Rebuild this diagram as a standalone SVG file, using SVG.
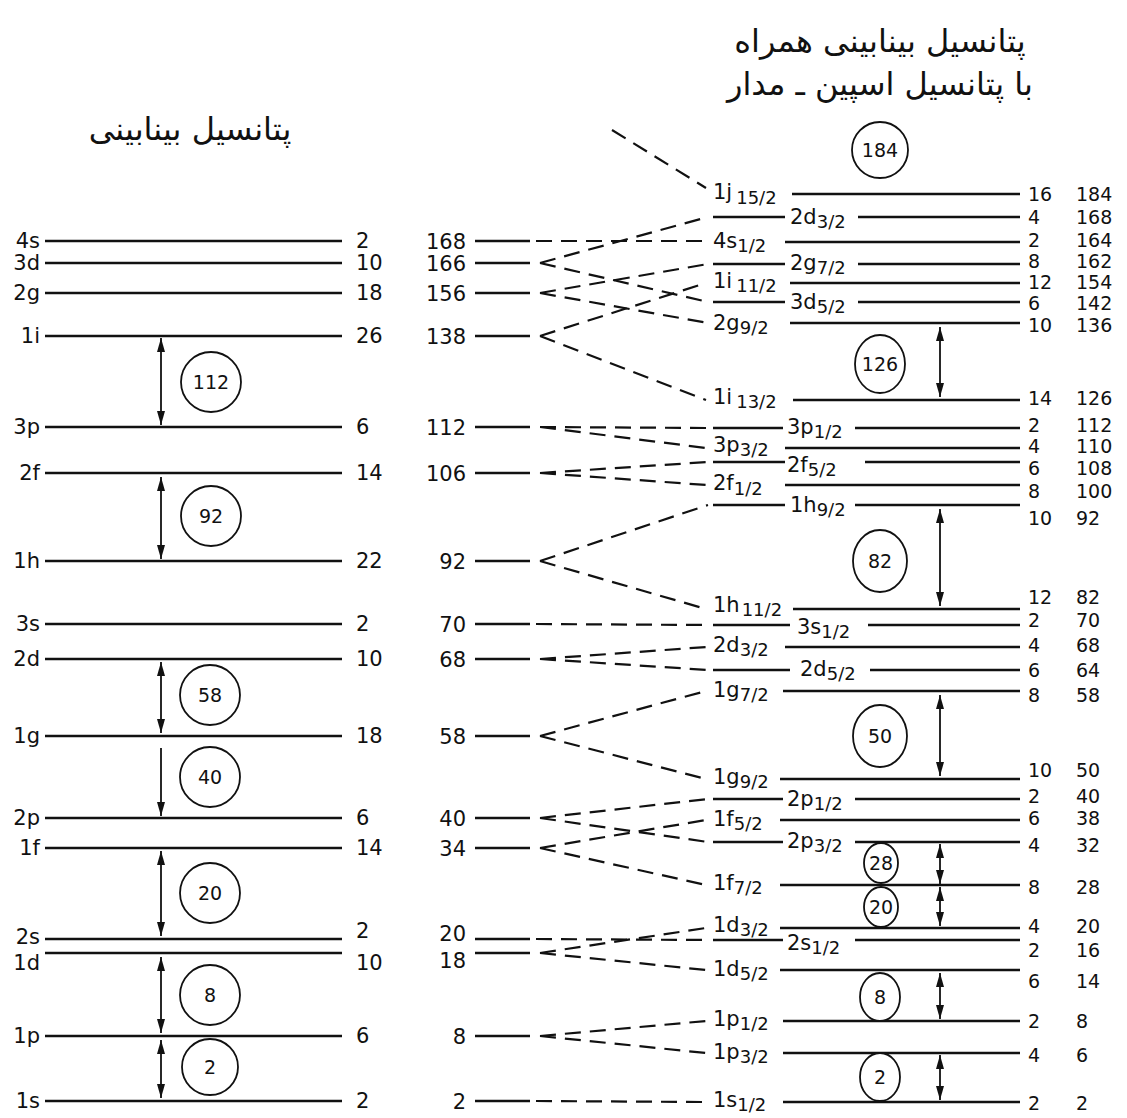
<svg xmlns="http://www.w3.org/2000/svg" width="1127" height="1118" viewBox="0 0 1127 1118">
<defs>
<style>
.lv{stroke:#111;stroke-width:2.6;fill:none}
.ds{stroke:#111;stroke-width:2.2;fill:none;stroke-dasharray:16 9}
.ar{stroke:#111;stroke-width:1.8;fill:none;marker-end:url(#ah)}
.ar2{stroke:#111;stroke-width:1.8;fill:none;marker-start:url(#ah);marker-end:url(#ah)}
.cc{stroke:#111;stroke-width:1.8;fill:#fff}
.t{font-family:"DejaVu Sans",sans-serif;font-size:21px;fill:#111}
.n{font-family:"DejaVu Sans",sans-serif;font-size:19px;fill:#111}
.lb{font-family:"DejaVu Sans",sans-serif;font-size:21px;fill:#111}
.sb{font-size:18px}
.cn{font-family:"DejaVu Sans",sans-serif;font-size:19px;fill:#111;text-anchor:middle}
.fa{font-family:"DejaVu Sans",sans-serif;font-size:32px;fill:#111;text-anchor:middle}
.r{text-anchor:end}
</style>
<marker id="ah" viewBox="0 0 14 8" refX="14" refY="4" markerWidth="14" markerHeight="8" markerUnits="userSpaceOnUse" orient="auto-start-reverse"><path d="M0,0 L14,4 L0,8 z" fill="#111"/></marker>
</defs>
<rect width="1127" height="1118" fill="#fff"/>

<g id="titles">
<text class="fa" x="190" y="140" direction="rtl">پتانسیل بینابینی</text>
<text class="fa" x="880" y="52" direction="rtl">پتانسیل بینابینی همراه</text>
<text class="fa" x="880" y="95" direction="rtl">با پتانسیل اسپین ـ مدار</text>
</g>

<!-- Left column -->
<g id="left-levels">
<g id="L-4s"><line class="lv" x1="45" y1="241" x2="342" y2="241"/><text class="lb r" x="40" y="248">4s</text><text class="t" x="356" y="248">2</text></g>
<g id="L-3d"><line class="lv" x1="45" y1="263" x2="342" y2="263"/><text class="lb r" x="40" y="270">3d</text><text class="t" x="356" y="270">10</text></g>
<g id="L-2g"><line class="lv" x1="45" y1="293" x2="342" y2="293"/><text class="lb r" x="40" y="300">2g</text><text class="t" x="356" y="300">18</text></g>
<g id="L-1i"><line class="lv" x1="45" y1="336" x2="342" y2="336"/><text class="lb r" x="40" y="343">1i</text><text class="t" x="356" y="343">26</text></g>
<g id="L-3p"><line class="lv" x1="45" y1="427" x2="342" y2="427"/><text class="lb r" x="40" y="434">3p</text><text class="t" x="356" y="434">6</text></g>
<g id="L-2f"><line class="lv" x1="45" y1="473" x2="342" y2="473"/><text class="lb r" x="40" y="480">2f</text><text class="t" x="356" y="480">14</text></g>
<g id="L-1h"><line class="lv" x1="45" y1="561" x2="342" y2="561"/><text class="lb r" x="40" y="568">1h</text><text class="t" x="356" y="568">22</text></g>
<g id="L-3s"><line class="lv" x1="45" y1="624" x2="342" y2="624"/><text class="lb r" x="40" y="631">3s</text><text class="t" x="356" y="631">2</text></g>
<g id="L-2d"><line class="lv" x1="45" y1="659" x2="342" y2="659"/><text class="lb r" x="40" y="666">2d</text><text class="t" x="356" y="666">10</text></g>
<g id="L-1g"><line class="lv" x1="45" y1="736" x2="342" y2="736"/><text class="lb r" x="40" y="743">1g</text><text class="t" x="356" y="743">18</text></g>
<g id="L-2p"><line class="lv" x1="45" y1="818" x2="342" y2="818"/><text class="lb r" x="40" y="825">2p</text><text class="t" x="356" y="825">6</text></g>
<g id="L-1f"><line class="lv" x1="45" y1="848" x2="342" y2="848"/><text class="lb r" x="40" y="855">1f</text><text class="t" x="356" y="855">14</text></g>
<g id="L-2s"><line class="lv" x1="45" y1="939" x2="342" y2="939"/><text class="lb r" x="40" y="944">2s</text><text class="t" x="356" y="938">2</text></g>
<g id="L-1d"><line class="lv" x1="45" y1="953" x2="342" y2="953"/><text class="lb r" x="40" y="970">1d</text><text class="t" x="356" y="970">10</text></g>
<g id="L-1p"><line class="lv" x1="45" y1="1036" x2="342" y2="1036"/><text class="lb r" x="40" y="1043">1p</text><text class="t" x="356" y="1043">6</text></g>
<g id="L-1s"><line class="lv" x1="45" y1="1101" x2="342" y2="1101"/><text class="lb r" x="40" y="1108">1s</text><text class="t" x="356" y="1108">2</text></g>
</g>

<g id="left-gaps">
<g id="g112"><circle class="cc" cx="211" cy="382" r="30"/><text class="cn" x="211" y="389">112</text></g>
<g id="g92"><circle class="cc" cx="211" cy="516" r="30"/><text class="cn" x="211" y="523">92</text></g>
<g id="g58"><circle class="cc" cx="210" cy="695" r="30"/><text class="cn" x="210" y="702">58</text></g>
<g id="g40"><circle class="cc" cx="210" cy="777" r="30"/><text class="cn" x="210" y="784">40</text></g>
<g id="g20"><circle class="cc" cx="210" cy="893" r="30"/><text class="cn" x="210" y="900">20</text></g>
<g id="g8"><circle class="cc" cx="210" cy="995" r="30"/><text class="cn" x="210" y="1002">8</text></g>
<g id="g2"><circle class="cc" cx="210" cy="1067" r="28"/><text class="cn" x="210" y="1074">2</text></g>
</g>

<!-- Middle column -->
<g id="mid-levels">
<g id="M-168"><line class="lv" x1="475" y1="241" x2="530" y2="241"/><text class="t r" x="466" y="249">168</text></g>
<g id="M-166"><line class="lv" x1="475" y1="263" x2="530" y2="263"/><text class="t r" x="466" y="271">166</text></g>
<g id="M-156"><line class="lv" x1="475" y1="293" x2="530" y2="293"/><text class="t r" x="466" y="301">156</text></g>
<g id="M-138"><line class="lv" x1="475" y1="336" x2="530" y2="336"/><text class="t r" x="466" y="344">138</text></g>
<g id="M-112"><line class="lv" x1="475" y1="427" x2="530" y2="427"/><text class="t r" x="466" y="435">112</text></g>
<g id="M-106"><line class="lv" x1="475" y1="473" x2="530" y2="473"/><text class="t r" x="466" y="481">106</text></g>
<g id="M-92"><line class="lv" x1="475" y1="561" x2="530" y2="561"/><text class="t r" x="466" y="569">92</text></g>
<g id="M-70"><line class="lv" x1="475" y1="624" x2="530" y2="624"/><text class="t r" x="466" y="632">70</text></g>
<g id="M-68"><line class="lv" x1="475" y1="659" x2="530" y2="659"/><text class="t r" x="466" y="667">68</text></g>
<g id="M-58"><line class="lv" x1="475" y1="736" x2="530" y2="736"/><text class="t r" x="466" y="744">58</text></g>
<g id="M-40"><line class="lv" x1="475" y1="818" x2="530" y2="818"/><text class="t r" x="466" y="826">40</text></g>
<g id="M-34"><line class="lv" x1="475" y1="848" x2="530" y2="848"/><text class="t r" x="466" y="856">34</text></g>
<g id="M-20"><line class="lv" x1="475" y1="939" x2="530" y2="939"/><text class="t r" x="466" y="941">20</text></g>
<g id="M-18"><line class="lv" x1="475" y1="953" x2="530" y2="953"/><text class="t r" x="466" y="968">18</text></g>
<g id="M-8"><line class="lv" x1="475" y1="1036" x2="530" y2="1036"/><text class="t r" x="466" y="1044">8</text></g>
<g id="M-2"><line class="lv" x1="475" y1="1101" x2="530" y2="1101"/><text class="t r" x="466" y="1109">2</text></g>
</g>

<!-- Right column -->
<g id="right-levels">
<g id="R-1j15"><line class="lv" x1="792" y1="194" x2="1020" y2="194"/><text class="lb" x="713" y="199">1j<tspan class="sb" dx="4" dy="5">15/2</tspan></text><text class="n" x="1028" y="201">16</text><text class="n" x="1076" y="201">184</text></g>
<g id="R-2d3"><line class="lv" x1="713" y1="217" x2="785" y2="217"/><text class="lb" x="790" y="224">2d<tspan class="sb" dy="4">3/2</tspan></text><line class="lv" x1="858" y1="217" x2="1020" y2="217"/><text class="n" x="1028" y="224">4</text><text class="n" x="1076" y="224">168</text></g>
<g id="R-4s1"><line class="lv" x1="785" y1="242" x2="1020" y2="242"/><text class="lb" x="713" y="248">4s<tspan class="sb" dy="4">1/2</tspan></text><text class="n" x="1028" y="247">2</text><text class="n" x="1076" y="247">164</text></g>
<g id="R-2g7"><line class="lv" x1="713" y1="264" x2="785" y2="264"/><text class="lb" x="790" y="270">2g<tspan class="sb" dy="4">7/2</tspan></text><line class="lv" x1="858" y1="264" x2="1020" y2="264"/><text class="n" x="1028" y="268">8</text><text class="n" x="1076" y="268">162</text></g>
<g id="R-1i11"><line class="lv" x1="790" y1="283" x2="1020" y2="283"/><text class="lb" x="713" y="288">1i<tspan class="sb" dx="4" dy="4">11/2</tspan></text><text class="n" x="1028" y="289">12</text><text class="n" x="1076" y="289">154</text></g>
<g id="R-3d5"><line class="lv" x1="713" y1="302" x2="785" y2="302"/><text class="lb" x="790" y="309">3d<tspan class="sb" dy="4">5/2</tspan></text><line class="lv" x1="858" y1="302" x2="1020" y2="302"/><text class="n" x="1028" y="310">6</text><text class="n" x="1076" y="310">142</text></g>
<g id="R-2g9"><line class="lv" x1="790" y1="323" x2="1020" y2="323"/><text class="lb" x="713" y="330">2g<tspan class="sb" dy="4">9/2</tspan></text><text class="n" x="1028" y="332">10</text><text class="n" x="1076" y="332">136</text></g>
<g id="R-1i13"><line class="lv" x1="793" y1="400" x2="1020" y2="400"/><text class="lb" x="713" y="404">1i<tspan class="sb" dx="4" dy="4">13/2</tspan></text><text class="n" x="1028" y="405">14</text><text class="n" x="1076" y="405">126</text></g>
<g id="R-3p1"><line class="lv" x1="713" y1="428" x2="783" y2="428"/><text class="lb" x="787" y="434">3p<tspan class="sb" dy="4">1/2</tspan></text><line class="lv" x1="855" y1="428" x2="1020" y2="428"/><text class="n" x="1028" y="432">2</text><text class="n" x="1076" y="432">112</text></g>
<g id="R-3p3"><line class="lv" x1="785" y1="448" x2="1020" y2="448"/><text class="lb" x="713" y="452">3p<tspan class="sb" dy="4">3/2</tspan></text><text class="n" x="1028" y="453">4</text><text class="n" x="1076" y="453">110</text></g>
<g id="R-2f5"><line class="lv" x1="713" y1="462" x2="785" y2="462"/><text class="lb" x="787" y="472">2f<tspan class="sb" dy="4">5/2</tspan></text><line class="lv" x1="865" y1="462" x2="1020" y2="462"/><text class="n" x="1028" y="475">6</text><text class="n" x="1076" y="475">108</text></g>
<g id="R-2f1"><line class="lv" x1="785" y1="485" x2="1020" y2="485"/><text class="lb" x="713" y="490">2f<tspan class="sb" dy="5">1/2</tspan></text><text class="n" x="1028" y="498">8</text><text class="n" x="1076" y="498">100</text></g>
<g id="R-1h9"><line class="lv" x1="713" y1="505" x2="785" y2="505"/><text class="lb" x="790" y="512">1h<tspan class="sb" dy="4">9/2</tspan></text><line class="lv" x1="855" y1="505" x2="1020" y2="505"/><text class="n" x="1028" y="525">10</text><text class="n" x="1076" y="525">92</text></g>
<g id="R-1h11"><line class="lv" x1="793" y1="609" x2="1020" y2="609"/><text class="lb" x="713" y="612">1h<tspan class="sb" dx="2" dy="4">11/2</tspan></text><text class="n" x="1028" y="604">12</text><text class="n" x="1076" y="604">82</text></g>
<g id="R-3s1"><line class="lv" x1="713" y1="625" x2="790" y2="625"/><text class="lb" x="797" y="634">3s<tspan class="sb" dy="4">1/2</tspan></text><line class="lv" x1="868" y1="625" x2="1020" y2="625"/><text class="n" x="1028" y="627">2</text><text class="n" x="1076" y="627">70</text></g>
<g id="R-2d3b"><line class="lv" x1="785" y1="647" x2="1020" y2="647"/><text class="lb" x="713" y="652">2d<tspan class="sb" dy="4">3/2</tspan></text><text class="n" x="1028" y="652">4</text><text class="n" x="1076" y="652">68</text></g>
<g id="R-2d5"><line class="lv" x1="713" y1="670" x2="790" y2="670"/><text class="lb" x="800" y="676">2d<tspan class="sb" dy="4">5/2</tspan></text><line class="lv" x1="870" y1="670" x2="1020" y2="670"/><text class="n" x="1028" y="677">6</text><text class="n" x="1076" y="677">64</text></g>
<g id="R-1g7"><line class="lv" x1="783" y1="691" x2="1020" y2="691"/><text class="lb" x="713" y="697">1g<tspan class="sb" dy="4">7/2</tspan></text><text class="n" x="1028" y="702">8</text><text class="n" x="1076" y="702">58</text></g>
<g id="R-1g9"><line class="lv" x1="780" y1="779" x2="1020" y2="779"/><text class="lb" x="713" y="784">1g<tspan class="sb" dy="4">9/2</tspan></text><text class="n" x="1028" y="777">10</text><text class="n" x="1076" y="777">50</text></g>
<g id="R-2p1"><line class="lv" x1="713" y1="799" x2="783" y2="799"/><text class="lb" x="787" y="806">2p<tspan class="sb" dy="4">1/2</tspan></text><line class="lv" x1="855" y1="799" x2="1020" y2="799"/><text class="n" x="1028" y="803">2</text><text class="n" x="1076" y="803">40</text></g>
<g id="R-1f5"><line class="lv" x1="780" y1="820" x2="1020" y2="820"/><text class="lb" x="713" y="826">1f<tspan class="sb" dy="4">5/2</tspan></text><text class="n" x="1028" y="825">6</text><text class="n" x="1076" y="825">38</text></g>
<g id="R-2p3"><line class="lv" x1="713" y1="842" x2="783" y2="842"/><text class="lb" x="787" y="848">2p<tspan class="sb" dy="4">3/2</tspan></text><line class="lv" x1="855" y1="842" x2="1020" y2="842"/><text class="n" x="1028" y="852">4</text><text class="n" x="1076" y="852">32</text></g>
<g id="R-1f7"><line class="lv" x1="780" y1="885" x2="1020" y2="885"/><text class="lb" x="713" y="890">1f<tspan class="sb" dy="4">7/2</tspan></text><text class="n" x="1028" y="894">8</text><text class="n" x="1076" y="894">28</text></g>
<g id="R-1d3"><line class="lv" x1="780" y1="928" x2="1020" y2="928"/><text class="lb" x="713" y="932">1d<tspan class="sb" dy="4">3/2</tspan></text><text class="n" x="1028" y="933">4</text><text class="n" x="1076" y="933">20</text></g>
<g id="R-2s1"><line class="lv" x1="713" y1="940" x2="783" y2="940"/><text class="lb" x="787" y="950">2s<tspan class="sb" dy="4">1/2</tspan></text><line class="lv" x1="855" y1="940" x2="1020" y2="940"/><text class="n" x="1028" y="957">2</text><text class="n" x="1076" y="957">16</text></g>
<g id="R-1d5"><line class="lv" x1="780" y1="970" x2="1020" y2="970"/><text class="lb" x="713" y="976">1d<tspan class="sb" dy="4">5/2</tspan></text><text class="n" x="1028" y="988">6</text><text class="n" x="1076" y="988">14</text></g>
<g id="R-1p1"><line class="lv" x1="783" y1="1021" x2="1020" y2="1021"/><text class="lb" x="713" y="1026">1p<tspan class="sb" dy="4">1/2</tspan></text><text class="n" x="1028" y="1028">2</text><text class="n" x="1076" y="1028">8</text></g>
<g id="R-1p3"><line class="lv" x1="783" y1="1053" x2="1020" y2="1053"/><text class="lb" x="713" y="1059">1p<tspan class="sb" dy="4">3/2</tspan></text><text class="n" x="1028" y="1062">4</text><text class="n" x="1076" y="1062">6</text></g>
<g id="R-1s1"><line class="lv" x1="783" y1="1102" x2="1020" y2="1102"/><text class="lb" x="713" y="1107">1s<tspan class="sb" dy="4">1/2</tspan></text><text class="n" x="1028" y="1110">2</text><text class="n" x="1076" y="1110">2</text></g>
</g>

<g id="right-gaps">
<g id="m184"><ellipse class="cc" cx="880" cy="150" rx="28" ry="28"/><text class="cn" x="880" y="157">184</text></g>
<g id="m126"><ellipse class="cc" cx="880" cy="364" rx="25" ry="29"/><text class="cn" x="880" y="371">126</text></g>
<g id="m82"><ellipse class="cc" cx="880" cy="561" rx="27" ry="31"/><text class="cn" x="880" y="568">82</text></g>
<g id="m50"><ellipse class="cc" cx="880" cy="736" rx="27" ry="31"/><text class="cn" x="880" y="743">50</text></g>
<g id="m28"><ellipse class="cc" cx="881" cy="863" rx="17" ry="20"/><text class="cn" x="881" y="870">28</text></g>
<g id="m20"><ellipse class="cc" cx="881" cy="907" rx="17" ry="20"/><text class="cn" x="881" y="914">20</text></g>
<g id="m8"><ellipse class="cc" cx="880" cy="997" rx="20" ry="24"/><text class="cn" x="880" y="1004">8</text></g>
<g id="m2"><ellipse class="cc" cx="880" cy="1077" rx="20" ry="24"/><text class="cn" x="880" y="1084">2</text></g>
</g>

<g id="connectors">
<line class="ar2" x1="161" y1="338" x2="161" y2="425"/>
<line class="ar2" x1="161" y1="477" x2="161" y2="559"/>
<line class="ar2" x1="161" y1="662" x2="161" y2="733"/>
<line class="ar" x1="161" y1="748" x2="161" y2="816"/>
<line class="ar2" x1="161" y1="851" x2="161" y2="936"/>
<line class="ar2" x1="161" y1="957" x2="161" y2="1033"/>
<line class="ar2" x1="161" y1="1040" x2="161" y2="1098"/>

<line class="ar2" x1="940" y1="327" x2="940" y2="397"/>
<line class="ar2" x1="940" y1="509" x2="940" y2="606"/>
<line class="ar2" x1="940" y1="695" x2="940" y2="776"/>
<line class="ar2" x1="940" y1="844" x2="940" y2="884"/>
<line class="ar2" x1="940" y1="887" x2="940" y2="926"/>
<line class="ar2" x1="940" y1="973" x2="940" y2="1019"/>
<line class="ar2" x1="940" y1="1055" x2="940" y2="1100"/>

<path class="ds" d="M612,130 L706,188"/>
<path class="ds" d="M536,241 L708,241"/>
<path class="ds" d="M540,263 L708,217 M540,263 L708,302"/>
<path class="ds" d="M540,293 L708,264 M540,293 L708,323"/>
<path class="ds" d="M540,336 L706,283 M540,336 L706,400"/>
<path class="ds" d="M540,427 L708,428 M540,427 L706,448"/>
<path class="ds" d="M540,473 L708,462 M540,473 L706,485"/>
<path class="ds" d="M540,561 L708,505 M540,561 L706,609"/>
<path class="ds" d="M536,624 L708,625"/>
<path class="ds" d="M540,659 L706,647 M540,659 L708,670"/>
<path class="ds" d="M540,736 L706,691 M540,736 L706,779"/>
<path class="ds" d="M540,818 L708,799 M540,818 L708,842"/>
<path class="ds" d="M540,848 L706,820 M540,848 L706,885"/>
<path class="ds" d="M536,939 L708,940"/>
<path class="ds" d="M540,953 L706,928 M540,953 L706,970"/>
<path class="ds" d="M540,1036 L706,1021 M540,1036 L706,1053"/>
<path class="ds" d="M536,1101 L706,1102"/>
</g>
</svg>
